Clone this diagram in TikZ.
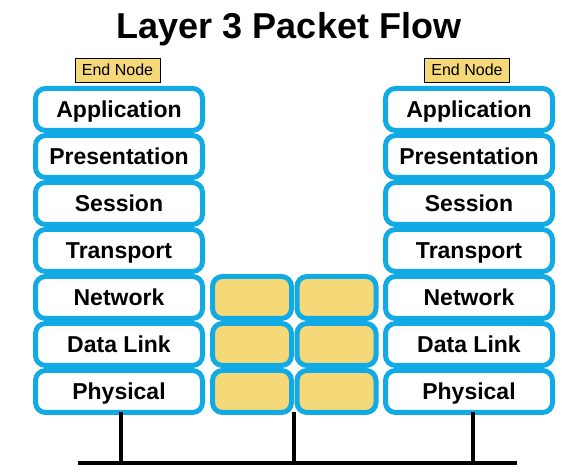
\documentclass[tikz,border=0pt]{standalone}
\usepackage{fontspec}
\setmainfont{Liberation Sans}
\definecolor{lblue}{RGB}{18,170,228}
\definecolor{lyellow}{RGB}{245,217,120}
\begin{document}
\begin{tikzpicture}[x=1pt,y=1pt,
  layer/.style={draw=lblue,line width=5pt,rounded corners=10pt,fill=white,
    minimum width=167pt,minimum height=42pt,inner sep=0pt,outer sep=0pt,
    text height=17pt,text depth=0pt,
    font=\fontsize{23}{26}\selectfont\bfseries},
  mid/.style={draw=lblue,line width=5pt,rounded corners=10pt,fill=lyellow,
    minimum width=79pt,minimum height=42pt,inner sep=0pt,outer sep=0pt},
  tag/.style={draw=black,line width=0.8pt,fill=lyellow,inner sep=0pt,
    minimum width=85pt,minimum height=24pt,font=\fontsize{16}{19}\selectfont},
  wire/.style={line width=4pt}]
\useasboundingbox (0,0) rectangle (563,474);
\node[font=\fontsize{36}{40}\selectfont\bfseries,anchor=base] (title) at (289,435) {Layer 3 Packet Flow};
\node[tag] (tagL) at (117.5,404) {End Node};
\node[tag] (tagR) at (467,404) {End Node};
% rows
\foreach \n/\t [count=\i from 0] in {app/Application,pre/Presentation,ses/Session,tra/Transport,net/Network,dl/Data Link,phy/Physical}{
  \node[layer] (L\n) at (119,{474-109.5-47*\i}) {\t};
  \node[layer] (R\n) at (469,{474-109.5-47*\i}) {\t};
}
\foreach \n [count=\i from 4] in {net,dl,phy}{
  \node[mid] (A\n) at (252,{474-109.5-47*\i}) {};
  \node[mid] (B\n) at (336.5,{474-109.5-47*\i}) {};
}
\coordinate (busL) at (78,11);
\coordinate (busR) at (517,11);
\coordinate (jL) at (121,11);
\coordinate (jM) at (294,11);
\coordinate (jR) at (473,11);
\draw[wire] (busL) -- (busR);
\draw[wire] (Lphy.south -| jL) -- (jL);
\draw[wire] (Aphy.south -| jM) -- (jM);
\draw[wire] (Rphy.south -| jR) -- (jR);
\end{tikzpicture}
\end{document}
